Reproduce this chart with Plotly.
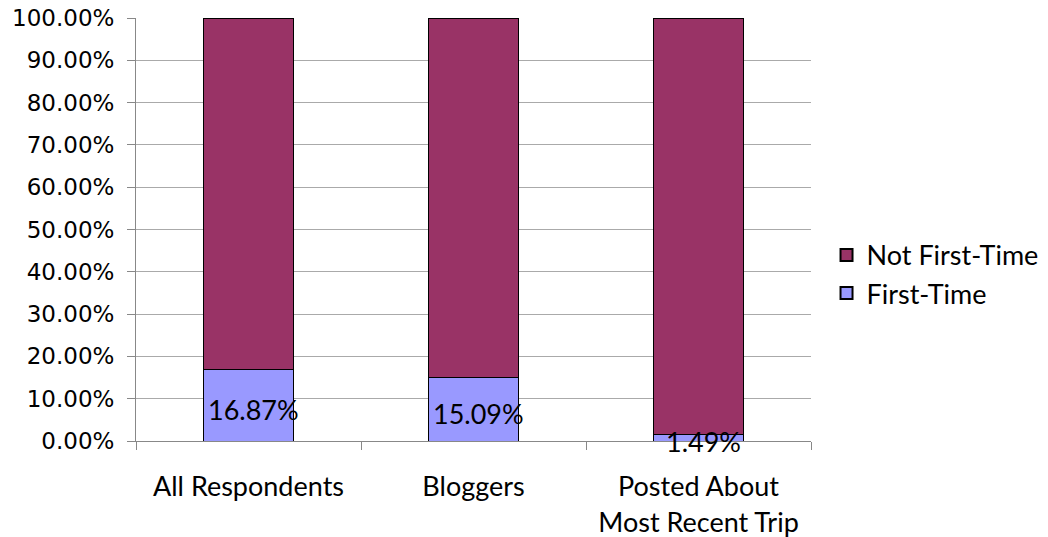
import plotly.graph_objects as go

categories = ["All Respondents", "Bloggers", "Posted About<br>Most Recent Trip"]
first_time = [16.87, 15.09, 1.49]
not_first_time = [100 - v for v in first_time]
tick_vals = [0, 10, 20, 30, 40, 50, 60, 70, 80, 90, 100]
tick_text = [f"{v:.2f}%" for v in tick_vals]

label_font = dict(family="Lato, Calibri, sans-serif", size=27, color="black")

fig = go.Figure()
fig.add_trace(go.Bar(
    x=categories, y=first_time, name="First-Time",
    marker=dict(color="#9999FF", line=dict(color="black", width=1)),
    width=0.4,
))
fig.add_trace(go.Bar(
    x=categories, y=not_first_time, name="Not First-Time",
    marker=dict(color="#993366", line=dict(color="black", width=1)),
    width=0.4,
))

# value labels centred in the First-Time segment
for c, v in zip(categories, first_time):
    fig.add_annotation(x=c, y=v / 2, text=f"{v:.2f}%", showarrow=False,
                       font=label_font, xshift=5, yshift=-4)

fig.update_layout(
    barmode="stack",
    width=1048, height=537,
    margin=dict(l=136, r=237, t=18, b=96, autoexpand=False),
    plot_bgcolor="white", paper_bgcolor="white",
    legend=dict(x=1.023, y=0.394, yanchor="middle", xanchor="left",
                traceorder="reversed", font=label_font,
                itemsizing="constant", tracegroupgap=0),
    xaxis=dict(
        showline=True, linecolor="#888888", linewidth=1,
        ticks="outside", tickson="boundaries", ticklen=8, tickcolor="#888888",
        tickfont=label_font, range=[-0.5, 2.5],
        ticklabelstandoff=22, automargin=False,
    ),
    yaxis=dict(
        range=[0, 100], tickvals=tick_vals, ticktext=tick_text,
        showgrid=True, gridcolor="#aaaaaa", gridwidth=1,
        showline=True, linecolor="#888888", linewidth=1,
        ticks="outside", ticklen=8, tickcolor="#888888",
        tickfont=dict(family="DejaVu Sans, sans-serif", size=23, color="black"),
        ticklabelstandoff=8, automargin=False,
        zeroline=False,
    ),
)

fig.write_html("out.html")
